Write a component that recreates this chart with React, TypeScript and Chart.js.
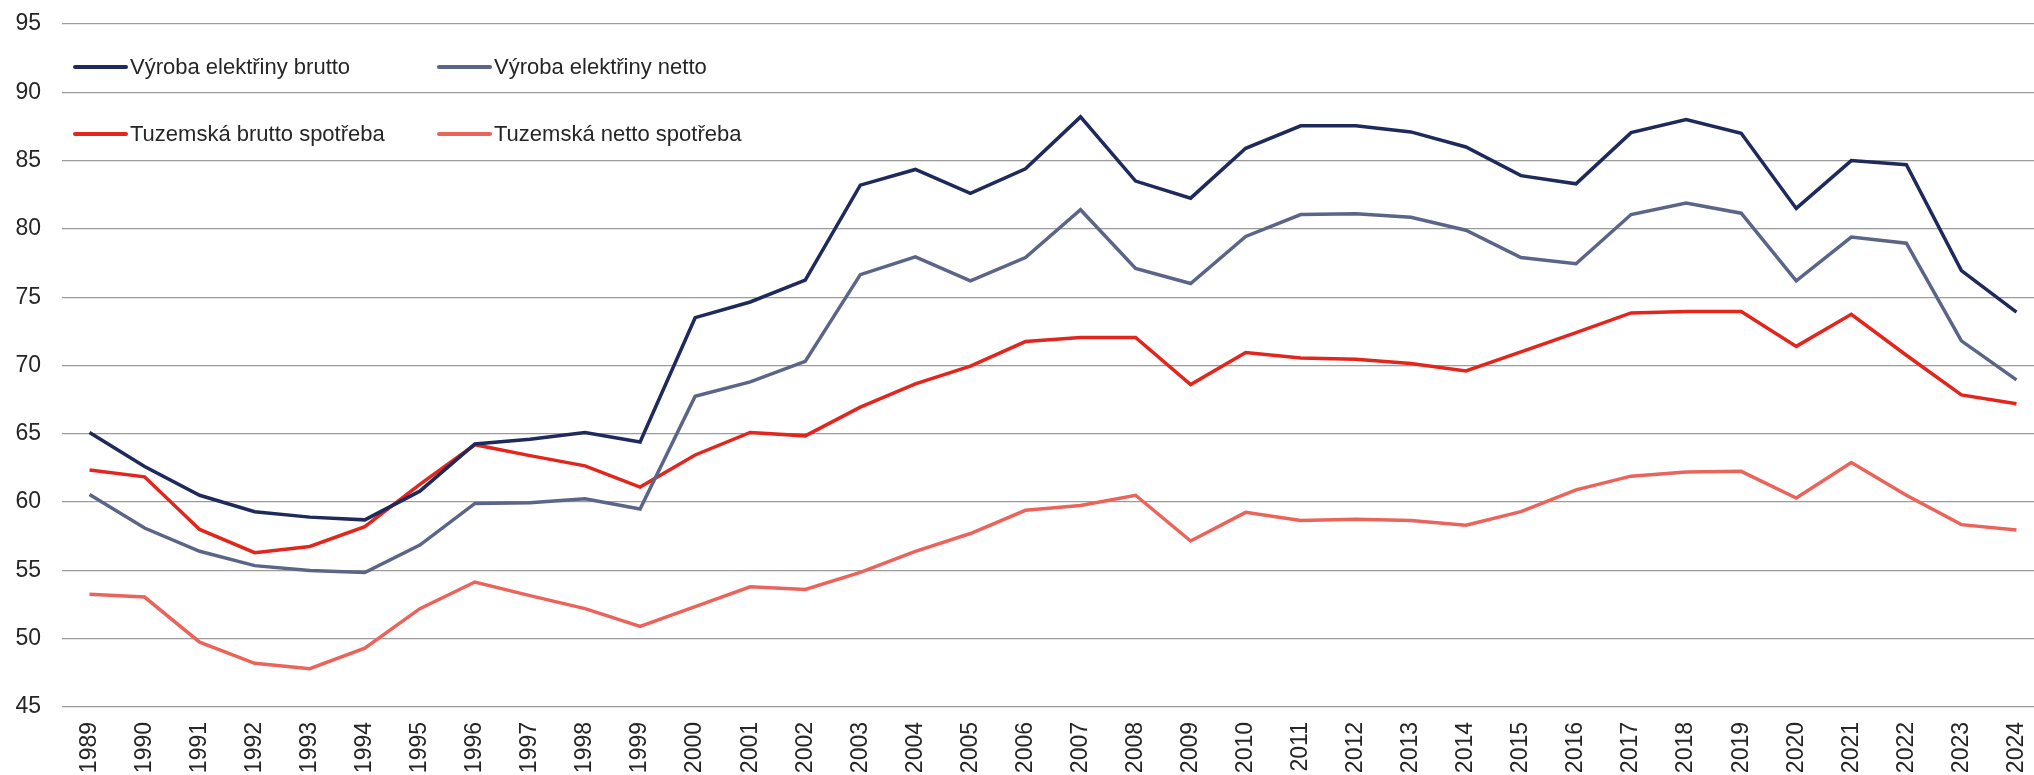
import React, { useEffect, useRef } from "react";
import { Chart, registerables } from "chart.js";

Chart.register(...registerables);

const years: string[] = [
  "1989","1990","1991","1992","1993","1994","1995","1996","1997","1998","1999",
  "2000","2001","2002","2003","2004","2005","2006","2007","2008","2009","2010",
  "2011","2012","2013","2014","2015","2016","2017","2018","2019","2020","2021",
  "2022","2023","2024",
];

const vyrobaBrutto: number[] = [
  65.1, 62.6, 60.5, 59.3, 58.9, 58.7, 60.8, 64.25, 64.6, 65.1, 64.4,
  73.5, 74.65, 76.25, 83.2, 84.35, 82.6, 84.4, 88.2, 83.5, 82.25, 85.9,
  87.55, 87.55, 87.1, 86.0, 83.9, 83.3, 87.05, 88.0, 87.0, 81.5, 85.0,
  84.7, 76.95, 73.9,
];

const vyrobaNetto: number[] = [
  60.55, 58.1, 56.4, 55.35, 55.0, 54.85, 56.85, 59.9, 59.95, 60.25, 59.5,
  67.75, 68.8, 70.3, 76.65, 77.95, 76.2, 77.9, 81.4, 77.1, 76.0, 79.45,
  81.05, 81.1, 80.85, 79.9, 77.9, 77.45, 81.05, 81.9, 81.15, 76.2, 79.4,
  78.95, 71.8, 68.95,
];

const spotrebaBrutto: number[] = [
  62.35, 61.85, 58.0, 56.3, 56.75, 58.2, 61.3, 64.2, 63.4, 62.65, 61.1,
  63.45, 65.1, 64.85, 66.95, 68.65, 69.95, 71.75, 72.05, 72.05, 68.6, 70.95,
  70.55, 70.45, 70.15, 69.6, 71.0, 72.4, 73.85, 73.95, 73.95, 71.4, 73.75,
  70.75, 67.85, 67.2,
];

const spotrebaNetto: number[] = [
  53.25, 53.05, 49.75, 48.2, 47.8, 49.3, 52.2, 54.15, 53.15, 52.2, 50.9,
  52.35, 53.8, 53.6, 54.85, 56.4, 57.7, 59.4, 59.75, 60.5, 57.15, 59.25,
  58.65, 58.75, 58.65, 58.3, 59.3, 60.9, 61.9, 62.2, 62.25, 60.3, 62.9,
  60.5, 58.35, 57.95,
];

const seriesLabels: string[] = [
  "Výroba elektřiny brutto",
  "Výroba elektřiny netto",
  "Tuzemská brutto spotřeba",
  "Tuzemská netto spotřeba",
];

const seriesColors: string[] = ["#1f2a5c", "#5a6588", "#e2261d", "#ea645c"];

const FONT = "'Liberation Sans', Arial, sans-serif";
const FONT_SIZE = 23;
const LEGEND_FONT_SIZE = 22;

const legendPlugin = {
  id: "insideLegend",
  afterDraw(chart: any) {
    const ctx = chart.ctx;
    const ds = chart.data.datasets;
    const cols = [75, 439];
    const rows = [67, 134];
    ctx.save();
    ctx.font = `${LEGEND_FONT_SIZE}px ${FONT}`;
    ctx.textBaseline = "middle";
    ctx.textAlign = "left";
    ds.forEach((d: any, i: number) => {
      const x = cols[i % 2];
      const y = rows[Math.floor(i / 2)];
      ctx.strokeStyle = d.borderColor;
      ctx.lineWidth = 4;
      ctx.lineCap = "round";
      ctx.beginPath();
      ctx.moveTo(x, y);
      ctx.lineTo(x + 51, y);
      ctx.stroke();
      ctx.fillStyle = "#262626";
      ctx.fillText(d.label, x + 55, y + 1);
    });
    ctx.restore();
  },
};

export default function App() {
  const canvasRef = useRef<HTMLCanvasElement | null>(null);

  useEffect(() => {
    if (!canvasRef.current) return;
    const datasets = [vyrobaBrutto, vyrobaNetto, spotrebaBrutto, spotrebaNetto].map(
      (data, i) => ({
        label: seriesLabels[i],
        data,
        borderColor: seriesColors[i],
        backgroundColor: seriesColors[i],
        borderWidth: 3.5,
        pointRadius: 0,
        tension: 0,
        fill: false,
      })
    );
    const chart = new Chart(canvasRef.current, {
      type: "line",
      data: { labels: years, datasets },
      options: {
        animation: false,
        responsive: false,
        maintainAspectRatio: false,
        devicePixelRatio: 1,
        layout: { padding: { top: 24, right: 2, bottom: 0, left: 0 } },
        plugins: {
          legend: { display: false },
          tooltip: { enabled: false },
        },
        scales: {
          x: {
            type: "category",
            offset: true,
            grid: { display: false, drawTicks: false },
            border: { display: false },
            ticks: {
              minRotation: 90,
              maxRotation: 90,
              autoSkip: false,
              padding: 15,
              color: "#262626",
              font: { family: FONT, size: FONT_SIZE },
            },
            afterFit: (scale: any) => {
              scale.height = 68;
              scale.paddingLeft = 0;
              scale.paddingRight = 0;
            },
          },
          y: {
            min: 45,
            max: 95,
            grid: { color: "#9c9c9c", lineWidth: 1.3, drawTicks: false },
            border: { display: false },
            ticks: {
              stepSize: 5,
              padding: 21,
              color: "#262626",
              font: { family: FONT, size: FONT_SIZE },
            },
            afterFit: (scale: any) => {
              scale.width = 62;
              scale.paddingTop = 0;
              scale.paddingBottom = 0;
            },
          },
        },
      },
      plugins: [legendPlugin],
    });
    return () => chart.destroy();
  }, []);

  return (
    <div
      style={{
        position: "fixed",
        left: 0,
        top: 0,
        width: 2034,
        height: 775,
        overflow: "hidden",
        background: "#ffffff",
      }}
    >
      <canvas
        ref={canvasRef}
        width={2046}
        height={775}
        style={{ width: 2046, height: 775, display: "block" }}
      />
    </div>
  );
}
